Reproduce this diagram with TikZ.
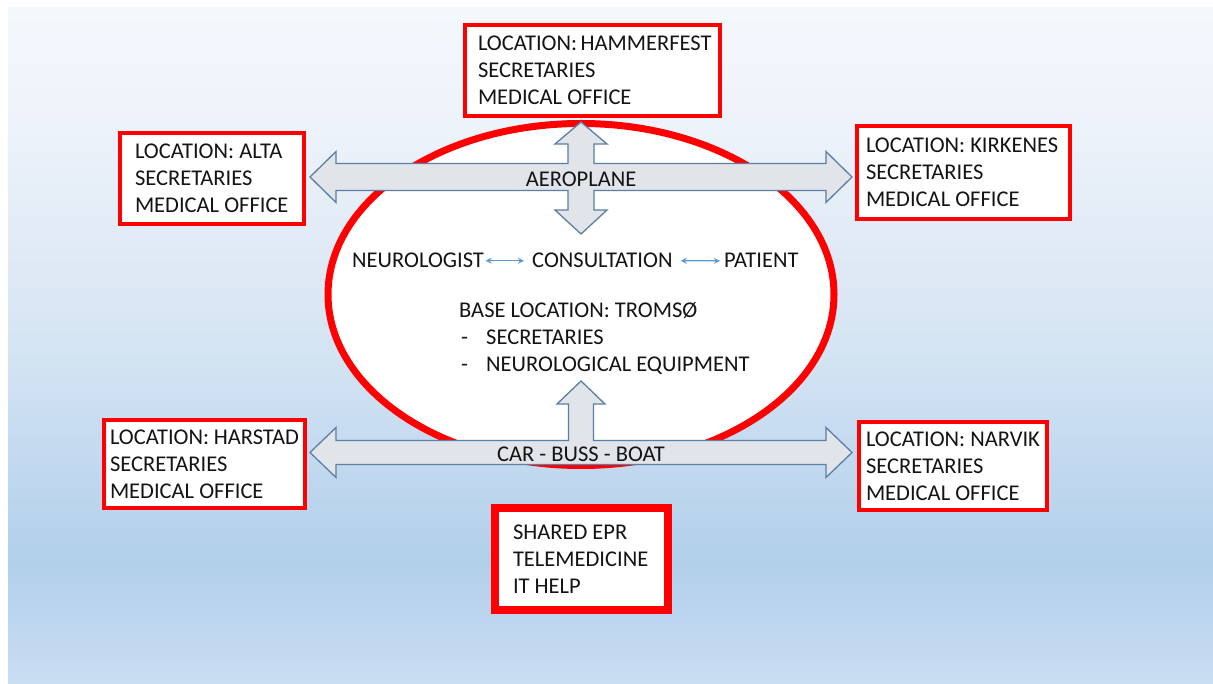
\documentclass[tikz,border=0pt]{standalone}
\usepackage{fontspec}
\setmainfont{Carlito}
\usetikzlibrary{arrows.meta,shapes.geometric}
\definecolor{bgBot}{HTML}{CADEF2}
\definecolor{bgL}{HTML}{BDD5EE}
\definecolor{bgK}{HTML}{B2D0EA}
\definecolor{bgJ}{HTML}{C4DAF0}
\definecolor{bgM}{HTML}{D6E5F3}
\definecolor{bgN}{HTML}{E0EAF5}
\definecolor{bgO}{HTML}{EEF3FB}
\definecolor{bgTop}{HTML}{F3F8FC}
\pgfdeclareverticalshading{bgshade}{100bp}{color(0bp)=(bgBot); color(25bp)=(bgBot); color(29.7bp)=(bgL); color(34.2bp)=(bgK); color(42.3bp)=(bgJ); color(50.4bp)=(bgM); color(57.1bp)=(bgN); color(66.7bp)=(bgO); color(75bp)=(bgTop); color(100bp)=(bgTop)}
\definecolor{boxred}{HTML}{FF0000}
\definecolor{arrfill}{HTML}{E1E4E9}
\definecolor{arrline}{HTML}{5B7FA5}
\definecolor{smallblue}{HTML}{5B9BD5}
\definecolor{txt}{HTML}{141414}
\begin{document}
\frenchspacing
\begin{tikzpicture}[x=1pt,y=-1pt,
  every node/.style={font=\fontsize{22.5}{27}\selectfont, text=txt},
  locbox/.style={draw=boxred, line width=4pt, fill=white, rectangle, align=flush left,
    inner ysep=0pt, execute at begin node={\hyphenpenalty=10000\exhyphenpenalty=10000\frenchspacing}},
  bigarrow/.style={fill=arrfill, draw=arrline, line width=1.3pt, line join=miter},
  plain/.style={inner sep=0pt, execute at begin node={\frenchspacing}},
  smallarr/.style={draw=smallblue, line width=1.4pt, {Stealth[length=6pt,width=6pt]}-{Stealth[length=6pt,width=6pt]}}
]
\useasboundingbox (0,0) rectangle (1213,684);
\fill[white] (0,0) rectangle (1213,684);
\shade[shading=bgshade] (8,8) rectangle (1213,684);

% central ellipse
\node[ellipse, draw=boxred, line width=7pt, fill=white, minimum width=506pt, minimum height=342pt, inner sep=0pt] (tromso) at (581,294.5) {};

% location boxes
\node[locbox, minimum width=255pt, minimum height=91pt, text width=229pt, inner xsep=13pt] (hammerfest) at (592.5,70.5) {LOCATION:~HAMMERFEST\\SECRETARIES\\MEDICAL~OFFICE};
\node[locbox, minimum width=184pt, minimum height=91pt, text width=154pt, inner xsep=15pt] (alta) at (212,178.5) {LOCATION:~ALTA\\SECRETARIES\\MEDICAL~OFFICE};
\node[locbox, minimum width=213pt, minimum height=93pt, text width=195pt, inner xsep=9pt] (kirkenes) at (963.5,172.5) {LOCATION:~KIRKENES\\SECRETARIES\\MEDICAL~OFFICE};
\node[locbox, minimum width=201pt, minimum height=88pt, text width=189pt, inner xsep=6pt] (harstad) at (204.5,464) {LOCATION:~HARSTAD\\SECRETARIES\\MEDICAL~OFFICE};
\node[locbox, minimum width=188pt, minimum height=88pt, text width=174pt, inner xsep=7pt] (narvik) at (953,466) {LOCATION:~NARVIK\\SECRETARIES\\MEDICAL~OFFICE};
\node[locbox, line width=8pt, minimum width=173pt, minimum height=102pt, text width=137pt, inner xsep=18pt] (shared) at (581.5,559) {SHARED~EPR\\TELEMEDICINE\\IT~HELP};

% aeroplane cross arrow
\draw[bigarrow] (581,122) -- (607,144) -- (594,144) -- (594,163.5) -- (826,163.5) -- (826,151.5) -- (852,177) -- (826,202.5) -- (826,190.5) -- (594,190.5) -- (594,210) -- (607,210) -- (581,234) -- (555,210) -- (568,210) -- (568,190.5) -- (336,190.5) -- (336,202.5) -- (310,177) -- (336,151.5) -- (336,163.5) -- (568,163.5) -- (568,144) -- (555,144) -- cycle;
\node[plain] (aero) at (581,179) {AEROPLANE};

% ground transport arrow
\draw[bigarrow] (581,381) -- (605,404) -- (593.5,404) -- (593.5,440.5) -- (826,440.5) -- (826,427.5) -- (852,452.5) -- (826,477.5) -- (826,464.5) -- (336,464.5) -- (336,477.5) -- (310,452.5) -- (336,427.5) -- (336,440.5) -- (568.5,440.5) -- (568.5,404) -- (557,404) -- cycle;
\node[plain] (ground) at (581,454) {CAR - BUSS - BOAT};

% centre texts
\node[plain, anchor=base west] (neuro) at (352,268) {NEUROLOGIST};
\node[plain, anchor=base west] (consult) at (532,268) {CONSULTATION};
\node[plain, anchor=base west] (patient) at (724,268) {PATIENT};
\draw[smallarr] ([xshift=1.5pt]neuro.east) -- ([xshift=-8pt]consult.west);
\draw[smallarr] ([xshift=8pt]consult.east) -- ([xshift=-4pt]patient.west);

\node[plain, anchor=base west] (base) at (459,318) {BASE LOCATION: TROMSØ};
\node[plain, anchor=base west] (dasha) at (461,345) {-};
\node[plain, anchor=base west] (secr) at (486,345) {SECRETARIES};
\node[plain, anchor=base west] (dashb) at (461,372) {-};
\node[plain, anchor=base west] (equip) at (486,372) {NEUROLOGICAL EQUIPMENT};
\end{tikzpicture}
\end{document}
